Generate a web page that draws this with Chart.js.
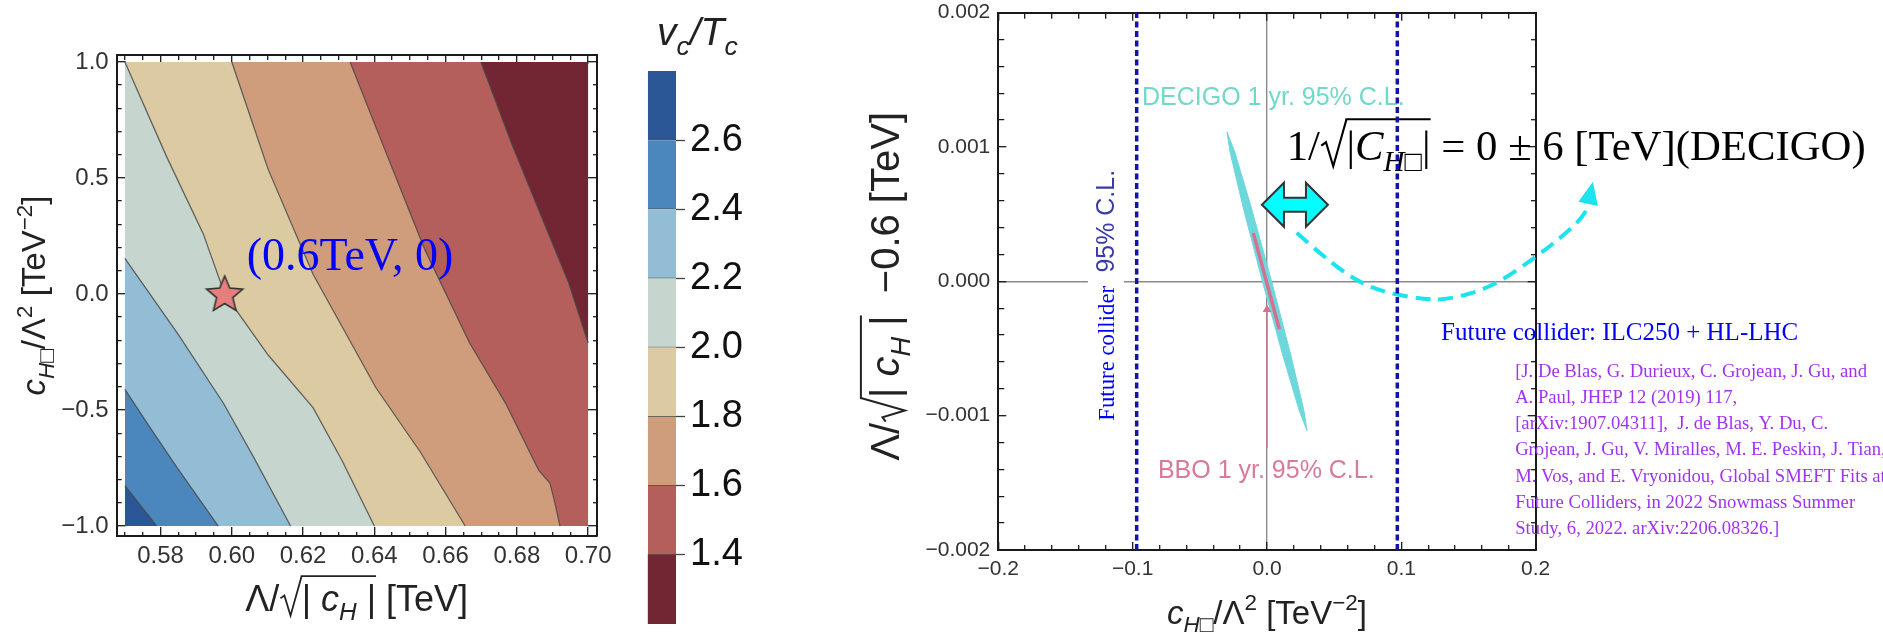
<!DOCTYPE html>
<html>
<head>
<meta charset="utf-8">
<title>v_c/T_c contours and GW / collider bounds</title>
<script src="https://cdn.jsdelivr.net/npm/chart.js@4.4.1/dist/chart.umd.min.js"></script>
<style>
  html, body { margin: 0; padding: 0; background: #fff; }
  body { position: relative; width: 1883px; height: 632px; overflow: hidden; }
  .panel { position: absolute; top: 0; height: 632px; }
</style>
</head>
<body>
<div class="panel" style="left:0;width:620px"><canvas id="contour"></canvas></div>
<div class="panel" style="left:620px;width:180px"><canvas id="colorbar"></canvas></div>
<div class="panel" style="left:800px;width:1083px"><canvas id="bounds"></canvas></div>
<script>
var SANS = '"Liberation Sans", Arial, sans-serif';
var SERIF = '"Liberation Serif", "Times New Roman", serif';

// ---------- left panel: v_c/T_c contour bands ----------
var xRange = [0.57, 0.70];
var yRange = [-1.0, 1.0];
var levels = [2.6, 2.4, 2.2, 2.0, 1.8, 1.6, 1.4];
// contour lines, [Lambda/sqrt|cH|, cHbox/Lambda^2]
var c26 = [[0.570, -0.826], [0.5789, -1.0]];
var c24 = [[0.570, -0.411], [0.5766, -0.565], [0.5845, -0.745], [0.5962, -1.0]];
var c22 = [[0.570, 0.154], [0.5851, -0.177], [0.5977, -0.472], [0.6060, -0.700], [0.6165, -1.0]];
var c20 = [[0.570, 1.0], [0.5817, 0.592], [0.5920, 0.259], [0.5980, 0.0], [0.6102, -0.263], [0.6228, -0.490], [0.6310, -0.720], [0.6400, -1.0]];
var c18 = [[0.6000, 1.0], [0.6102, 0.537], [0.6228, 0.085], [0.6404, -0.403], [0.6529, -0.681], [0.6655, -1.0]];
var c16 = [[0.6332, 1.0], [0.6430, 0.620], [0.6542, 0.190], [0.6667, -0.210], [0.6768, -0.470], [0.6861, -0.759], [0.6893, -0.816], [0.6907, -0.902], [0.6921, -1.0]];
var c14 = [[0.6699, 1.0], [0.6785, 0.650], [0.6870, 0.330], [0.6945, 0.050], [0.700, -0.211]];
var contourLines = [c26, c24, c22, c20, c18, c16, c14];
var benchmark = [0.598, 0.0];
var benchmarkLabel = '(0.6TeV, 0)';

var leftXTicks = [0.58, 0.60, 0.62, 0.64, 0.66, 0.68, 0.70];
var leftYTicks = [-1.0, -0.5, 0.0, 0.5, 1.0];

// colour bar
var cbEdges = [1.2, 1.4, 1.6, 1.8, 2.0, 2.2, 2.4, 2.6, 2.8];
var cbColors = ['#722634', '#b45f5c', '#cf9d7b', '#dccaa3', '#c6d6cf', '#92bdd5', '#4b87bd', '#2b5797'];
var cbTicks = [1.4, 1.6, 1.8, 2.0, 2.2, 2.4, 2.6];

// ---------- right panel: DECIGO / BBO / collider ----------
var decigoUpper = [[-0.0298, 0.001111], [-0.0241, 0.000966], [-0.0121, 0.000563], [0.0032, 0.0000089], [0.0177, -0.000548], [0.0274, -0.000958], [0.0298, -0.001111]];
var decigoLower = [[-0.0298, 0.001111], [-0.0274, 0.000958], [-0.0177, 0.000548], [-0.0032, -0.0000089], [0.0121, -0.000563], [0.0241, -0.000966], [0.0298, -0.001111]];
var bboBand = [[-0.0102, 0.000359], [0.0092, -0.000356]];
var bboPointer = [[0, -0.00124], [0, -0.00021]];
var colliderBound = [-0.097, 0.097];

var rightXTicks = [-0.2, -0.1, 0.0, 0.1, 0.2];
var rightYTicks = [-0.002, -0.001, 0.0, 0.001, 0.002];

// annotation anchors (data coordinates)
var decigoLabelAt = [-0.093, 0.001366];
var bboLabelAt = [-0.0812, -0.00141];
var formulaAt = [0.0147, 0.001013];
var arrowAt = [0.0208, 0.00057];
var colliderLabelAt = [-0.1199, -0.000104];
var ilcLabelAt = [0.1296, -0.000387];
var refsAt = [0.1847, -0.000674];
var curvePts = [[0.0221, 0.000361], [0.0419, 0.000185], [0.0668, 0.0], [0.0891, -0.0000856], [0.1162, -0.000133],
  [0.1340, -0.000138], [0.1668, -0.0000462], [0.1996, 0.000176], [0.2245, 0.000373], [0.2368, 0.000503], [0.2390, 0.000577]];
var curveTip = [0.2426, 0.000741];

var decigoLabel = 'DECIGO 1 yr. 95% C.L.';
var bboLabel = 'BBO 1 yr. 95% C.L.';
var ilcLabel = 'Future collider: ILC250 + HL-LHC';
var refLines = [
  '[J. De Blas, G. Durieux, C. Grojean, J. Gu, and',
  'A. Paul, JHEP 12 (2019) 117,',
  '[arXiv:1907.04311],  J. de Blas, Y. Du, C.',
  'Grojean, J. Gu, V. Miralles, M. E. Peskin, J. Tian,',
  'M. Vos, and E. Vryonidou, Global SMEFT Fits at',
  'Future Colliders, in 2022 Snowmass Summer',
  'Study, 6, 2022. arXiv:2206.08326.]'
];

// rich titles
var cTitle = [{t: 'c', it: 1}, {t: 'H□', it: 1, sub: 1}, {t: '/Λ'}, {t: '2', sup: 1}, {t: ' [TeV'}, {t: '−2', sup: 1}, {t: ']'}];
var lambdaTitle = [{t: 'Λ/'}, {t: '| ', over: 1}, {t: 'c', it: 1, over: 1}, {t: 'H', it: 1, sub: 1, over: 1}, {t: ' |', over: 1}, {t: ' [TeV]'}];
var lambdaShiftTitle = [{t: 'Λ/'}, {t: '| ', over: 1}, {t: 'c', it: 1, over: 1}, {t: 'H', it: 1, sub: 1, over: 1}, {t: ' |', over: 1}, {t: '  −0.6 [TeV]'}];
var vcTitle = [{t: 'v', it: 1}, {t: 'c', it: 1, sub: 1}, {t: '/', it: 1}, {t: 'T', it: 1}, {t: 'c', it: 1, sub: 1}];
var formula = [{t: '1/'}, {t: '|', over: 1}, {t: 'C', it: 1, over: 1}, {t: 'H□', it: 1, sub: 1, over: 1}, {t: '|', over: 1}, {t: ' = 0 ± 6 [TeV](DECIGO)'}];
var colliderVertical = [{t: 'Future collider', fam: SERIF, col: '#0000ff', k: 0.95}, {t: '  '}, {t: '95% C.L.', k: 1.04}];

// ---------- helpers ----------
function pts(a) { return a.map(function (p) { return {x: p[0], y: p[1]}; }); }
function minus(v, d) { return (v < 0 ? '−' : '') + Math.abs(v).toFixed(d); }
function noOverflow(s) { s.paddingTop = 0; s.paddingBottom = 0; s.paddingLeft = 0; s.paddingRight = 0; }

function richLayout(ctx, parts, size, family) {
  var total = 0, radW = 0.62 * size;
  var items = parts.map(function (p, i) {
    var fs = size * (p.k || 1) * (p.sub || p.sup ? 0.68 : 1);
    var font = (p.it ? 'italic ' : '') + fs.toFixed(2) + 'px ' + (p.fam || family);
    ctx.font = font;
    var w = ctx.measureText(p.t).width;
    var rad = p.over && (i === 0 || !parts[i - 1].over);
    total += w + (rad ? radW : 0);
    return {p: p, font: font, w: w, rad: rad, dy: p.sub ? 0.26 * size : (p.sup ? -0.40 * size : 0)};
  });
  return {items: items, total: total, radW: radW};
}

function drawRich(ctx, parts, o) {
  var size = o.size;
  var lay = richLayout(ctx, parts, size, o.family);
  if (o.fit) { size = size * o.fit / lay.total; lay = richLayout(ctx, parts, size, o.family); }
  var x = o.align === 'left' ? 0 : -lay.total / 2;
  var base = 0.35 * size;
  var lw = Math.max(1.3, size * 0.05);
  ctx.save();
  ctx.translate(o.x, o.y);
  if (o.rot) ctx.rotate(o.rot);
  if (o.bg) { ctx.fillStyle = o.bg; ctx.fillRect(x - 4, -0.75 * size, lay.total + 8, 1.5 * size); }
  ctx.textAlign = 'left';
  ctx.textBaseline = 'alphabetic';
  ctx.strokeStyle = o.color;
  ctx.lineWidth = lw;
  var barStart = null;
  lay.items.forEach(function (it, i) {
    if (it.rad) {
      ctx.beginPath();
      ctx.moveTo(x + 0.03 * size, base - 0.34 * size);
      ctx.lineTo(x + 0.14 * size, base - 0.42 * size);
      ctx.lineTo(x + 0.31 * size, base + 0.14 * size);
      ctx.lineTo(x + lay.radW, base - 0.96 * size);
      ctx.stroke();
      x += lay.radW;
      barStart = x;
    }
    ctx.font = it.font;
    ctx.fillStyle = it.p.col || o.color;
    ctx.fillText(it.p.t, x, base + it.dy);
    x += it.w;
    var nx = lay.items[i + 1];
    if (barStart !== null && (!nx || !nx.p.over)) {
      ctx.beginPath();
      ctx.moveTo(barStart - lw / 2, base - 0.96 * size);
      ctx.lineTo(x, base - 0.96 * size);
      ctx.stroke();
      barStart = null;
    }
  });
  ctx.restore();
}

// Mathematica-style frame axis: ticks inside, minor ticks shorter
function frameAxis(pos, min, max, step, majors, o) {
  var vals = [];
  for (var i = Math.ceil(min / step - 1e-9); i <= Math.floor(max / step + 1e-9); i++) vals.push(+(i * step).toFixed(10));
  var isMajor = function (v) { return majors.some(function (m) { return Math.abs(m - v) < step / 100; }); };
  var inward = pos === 'left' || pos === 'top';
  var horiz = pos === 'top' || pos === 'bottom';
  return {
    type: 'linear', position: pos, min: min, max: max,
    afterBuildTicks: function (s) { s.ticks = vals.map(function (v) { return {value: v}; }); },
    afterFit: function (s) {
      if (horiz) s.height = o.size || 0; else s.width = o.size || 0;
      noOverflow(s);
    },
    border: {display: true, color: '#1a1a1a', width: 2},
    grid: {
      drawOnChartArea: !!o.zero,
      color: function (c) { return c.tick && c.tick.value === 0 && o.zero ? o.zero : 'rgba(0,0,0,0)'; },
      lineWidth: 1.4,
      tickLength: -o.major,
      tickColor: '#1a1a1a',
      tickWidth: 1.3,
      tickBorderDash: function (c) {
        if (!c.tick || isMajor(c.tick.value)) return [];
        return inward ? [0, o.major - o.minor, o.minor, 400] : [o.minor, 400];
      }
    },
    ticks: {
      display: !!o.fmt, autoSkip: false, maxRotation: 0, minRotation: 0, padding: o.pad || 0,
      color: '#333', font: {size: o.font || 12, family: SANS},
      callback: function (v) { return o.fmt && isMajor(v) ? o.fmt(v) : ''; }
    }
  };
}

function starImage(r, fill) {
  var c = document.createElement('canvas');
  var n = Math.ceil(2 * r + 4);
  c.width = c.height = n;
  var g = c.getContext('2d');
  g.beginPath();
  for (var k = 0; k < 10; k++) {
    var rad = k % 2 ? r * 0.45 : r, a = -Math.PI / 2 + k * Math.PI / 5;
    var px = n / 2 + rad * Math.cos(a), py = n / 2 + rad * Math.sin(a) + 1;
    if (k) g.lineTo(px, py); else g.moveTo(px, py);
  }
  g.closePath();
  g.fillStyle = fill; g.fill();
  g.lineWidth = 1.6; g.strokeStyle = '#333'; g.stroke();
  return c;
}

Chart.defaults.font.family = SANS;

// ---------- left chart ----------
// band region right of a contour, closed along the box edges
function toBoxEdge(line) {
  var out = pts(line);
  if (line[0][0] > xRange[0]) out.unshift({x: xRange[0], y: yRange[1]});
  var last = line[line.length - 1];
  if (last[0] < xRange[1]) out.push({x: xRange[1], y: yRange[0]});
  return out;
}

var leftSets = [{
  data: pts([[xRange[0], yRange[0]], [xRange[1], yRange[0]]]),
  fill: {value: yRange[1]}, backgroundColor: cbColors[cbColors.length - 1], borderWidth: 0, order: 40
}];
levels.forEach(function (lv, k) {
  leftSets.push({
    data: toBoxEdge(contourLines[k]),
    fill: {value: yRange[1]},
    backgroundColor: cbColors[cbEdges.indexOf(lv) - 1],
    borderWidth: 0,
    order: 30 - k
  });
});
contourLines.forEach(function (line) {
  leftSets.push({data: pts(line), borderColor: 'rgba(70,70,70,0.8)', borderWidth: 1.3, order: 5});
});
leftSets.push({data: pts([benchmark]), showLine: false, pointStyle: starImage(19, '#e57f7c'), pointRadius: 19, order: 0});

var contourDecor = {
  id: 'contourDecor',
  afterDatasetsDraw: function (chart) {
    var ctx = chart.ctx, a = chart.chartArea;
    drawRich(ctx, lambdaTitle, {x: (a.left + a.right) / 2, y: a.bottom + 62, size: 36, family: SANS, color: '#222'});
    drawRich(ctx, cTitle, {x: a.left - 83, y: (a.top + a.bottom) / 2, size: 33, family: SANS, color: '#222', rot: -Math.PI / 2});
    var px = chart.scales.x.getPixelForValue(benchmark[0]), py = chart.scales.y.getPixelForValue(benchmark[1]);
    drawRich(ctx, [{t: benchmarkLabel}], {x: px + 22, y: py - 40, size: 46, family: SERIF, color: '#0000ff', align: 'left'});
  }
};

var xl = [xRange[0] - 0.0023, xRange[1] + 0.0024];
var yl = [-1.043, 1.030];
new Chart(document.getElementById('contour'), {
  type: 'line',
  data: {datasets: leftSets},
  options: {
    responsive: true, maintainAspectRatio: false, animation: false, events: [],
    layout: {padding: {left: 0, top: 55, right: 23.3, bottom: 0}},
    elements: {point: {radius: 0}, line: {tension: 0}},
    plugins: {legend: {display: false}, tooltip: {enabled: false}},
    scales: {
      x: frameAxis('bottom', xl[0], xl[1], 0.005, leftXTicks, {size: 96, major: 9, minor: 5, pad: 15, font: 24, fmt: function (v) { return minus(v, 2); }}),
      xTop: frameAxis('top', xl[0], xl[1], 0.005, leftXTicks, {size: 0, major: 9, minor: 5}),
      y: frameAxis('left', yl[0], yl[1], 0.1, leftYTicks, {size: 116.7, major: 9, minor: 5, pad: 17, font: 24, fmt: function (v) { return minus(v, 1); }}),
      yRight: frameAxis('right', yl[0], yl[1], 0.1, leftYTicks, {size: 0, major: 9, minor: 5})
    }
  },
  plugins: [contourDecor]
});

// ---------- colour bar ----------
var cbTitle = {
  id: 'cbTitle',
  afterDraw: function (chart) {
    drawRich(chart.ctx, vcTitle, {x: 37, y: 31, size: 39, family: SANS, color: '#222', align: 'left'});
  }
};
new Chart(document.getElementById('colorbar'), {
  type: 'bar',
  data: {
    labels: ['vc/Tc'],
    datasets: cbColors.map(function (col, i) {
      return {
        data: [[cbEdges[i], cbEdges[i + 1]]], backgroundColor: col, borderColor: 'rgba(55,55,55,0.85)',
        borderWidth: i === 0 ? 0 : {top: 0, right: 0, bottom: 1, left: 0}, borderSkipped: false,
        grouped: false, barPercentage: 1, categoryPercentage: 1
      };
    })
  },
  options: {
    responsive: true, maintainAspectRatio: false, animation: false, events: [],
    layout: {padding: {left: 27.7, top: 71, right: 0, bottom: 8}},
    plugins: {legend: {display: false}, tooltip: {enabled: false}},
    scales: {
      x: {display: false},
      y: {
        position: 'right', min: cbEdges[0], max: cbEdges[cbEdges.length - 1],
        afterBuildTicks: function (s) { s.ticks = cbTicks.map(function (v) { return {value: v}; }); },
        afterFit: function (s) { s.width = 124; noOverflow(s); },
        border: {display: false},
        grid: {drawOnChartArea: false, tickLength: 9, tickColor: '#444', tickWidth: 1.3},
        ticks: {padding: 5, color: '#111', font: {size: 38}, callback: function (v) { return v.toFixed(1); }}
      }
    }
  },
  plugins: [cbTitle]
});

// ---------- right chart ----------
var decigoColor = '#6dd8dc';
var bboColor = '#d6708e';
var dotColor = '#1313a5';
var rightSets = [
  {data: pts(decigoUpper), borderColor: decigoColor, borderWidth: 1, order: 5},
  {data: pts(decigoLower), borderColor: decigoColor, borderWidth: 1, fill: '-1', backgroundColor: decigoColor, order: 5},
  {data: pts(bboBand), borderColor: bboColor, borderWidth: 3.5, order: 3},
  {data: pts(bboPointer), borderColor: bboColor, borderWidth: 1.3, pointRadius: [0, 5], pointStyle: 'triangle',
    pointBackgroundColor: bboColor, pointBorderWidth: 0, order: 2},
  {data: pts([[colliderBound[0], rightYTicks[0]], [colliderBound[0], rightYTicks[4]]]), borderColor: dotColor, borderWidth: 3.5, borderDash: [6, 3.5], order: 1},
  {data: pts([[colliderBound[1], rightYTicks[0]], [colliderBound[1], rightYTicks[4]]]), borderColor: dotColor, borderWidth: 3.5, borderDash: [6, 3.5], order: 1}
];

var boundsDecor = {
  id: 'boundsDecor',
  beforeDatasetsDraw: function (chart) {
    var ctx = chart.ctx, a = chart.chartArea, sx = chart.scales.x, sy = chart.scales.y;
    var X = function (v) { return sx.getPixelForValue(v); };
    var Y = function (v) { return sy.getPixelForValue(v); };

    drawRich(ctx, cTitle, {x: (a.left + a.right) / 2, y: a.bottom + 62, size: 33, family: SANS, color: '#222'});
    drawRich(ctx, lambdaShiftTitle, {x: a.left - 113, y: (a.top + a.bottom) / 2 + 5, size: 40, family: SANS, color: '#222', rot: -Math.PI / 2});

    drawRich(ctx, colliderVertical, {x: X(colliderLabelAt[0]), y: Y(colliderLabelAt[1]), size: 24, family: SANS, color: '#3b3ba6', rot: -Math.PI / 2, bg: '#fff'});

    ctx.save();
    ctx.textBaseline = 'middle';
    ctx.textAlign = 'left';
    ctx.font = '25px ' + SANS;
    ctx.fillStyle = '#72d8c8';
    ctx.fillText(decigoLabel, X(decigoLabelAt[0]), Y(decigoLabelAt[1]));
    ctx.fillStyle = '#d87a98';
    ctx.fillText(bboLabel, X(bboLabelAt[0]), Y(bboLabelAt[1]));
    ctx.font = '25px ' + SERIF;
    ctx.fillStyle = '#0000ff';
    ctx.fillText(ilcLabel, X(ilcLabelAt[0]), Y(ilcLabelAt[1]));
    ctx.font = '100px ' + SERIF;
    var fs = 100 * 352 / ctx.measureText(refLines[0]).width;
    ctx.font = fs.toFixed(2) + 'px ' + SERIF;
    ctx.fillStyle = '#a033f2';
    refLines.forEach(function (s, i) { ctx.fillText(s, X(refsAt[0]), Y(refsAt[1]) + i * 26.2); });
    ctx.restore();

    drawRich(ctx, formula, {x: X(formulaAt[0]), y: Y(formulaAt[1]), size: 40, family: SERIF, color: '#000', align: 'left', fit: 579});

    // double-headed block arrow
    var cx = X(arrowAt[0]), cy = Y(arrowAt[1]), L = 33, H = 22, t = 7, h = 22;
    ctx.save();
    ctx.beginPath();
    ctx.moveTo(cx - L, cy); ctx.lineTo(cx - L + h, cy - H); ctx.lineTo(cx - L + h, cy - t);
    ctx.lineTo(cx + L - h, cy - t); ctx.lineTo(cx + L - h, cy - H); ctx.lineTo(cx + L, cy);
    ctx.lineTo(cx + L - h, cy + H); ctx.lineTo(cx + L - h, cy + t); ctx.lineTo(cx - L + h, cy + t);
    ctx.lineTo(cx - L + h, cy + H); ctx.closePath();
    ctx.fillStyle = '#00ffff'; ctx.fill();
    ctx.lineWidth = 2; ctx.strokeStyle = '#333'; ctx.lineJoin = 'miter'; ctx.stroke();

    // dashed curved arrow
    var P = curvePts.map(function (p) { return [X(p[0]), Y(p[1])]; });
    ctx.beginPath();
    ctx.moveTo(P[0][0], P[0][1]);
    for (var i = 1; i < P.length - 1; i++) {
      ctx.quadraticCurveTo(P[i][0], P[i][1], (P[i][0] + P[i + 1][0]) / 2, (P[i][1] + P[i + 1][1]) / 2);
    }
    ctx.lineTo(P[P.length - 1][0], P[P.length - 1][1]);
    ctx.setLineDash([15, 8]);
    ctx.lineWidth = 4; ctx.strokeStyle = '#1de3ef'; ctx.lineCap = 'butt';
    ctx.stroke();
    ctx.setLineDash([]);
    var bx = P[P.length - 1][0], by = P[P.length - 1][1], tx = X(curveTip[0]), ty = Y(curveTip[1]);
    var dx = tx - bx, dy = ty - by, len = Math.sqrt(dx * dx + dy * dy), nx = -dy / len * 10, ny = dx / len * 10;
    ctx.beginPath();
    ctx.moveTo(tx, ty); ctx.lineTo(bx + nx, by + ny); ctx.lineTo(bx - nx, by - ny); ctx.closePath();
    ctx.fillStyle = '#1de3ef'; ctx.fill();
    ctx.restore();
  }
};

new Chart(document.getElementById('bounds'), {
  type: 'line',
  data: {datasets: rightSets},
  options: {
    responsive: true, maintainAspectRatio: false, animation: false, events: [],
    layout: {padding: {left: 0, top: 12.7, right: 347.3, bottom: 0}},
    elements: {point: {radius: 0}, line: {tension: 0}},
    plugins: {legend: {display: false}, tooltip: {enabled: false}},
    scales: {
      x: frameAxis('bottom', rightXTicks[0], rightXTicks[4], 0.02, rightXTicks, {size: 82, major: 8, minor: 6, pad: 15, font: 21, zero: '#8a8a8a', fmt: function (v) { return minus(v, 1); }}),
      xTop: frameAxis('top', rightXTicks[0], rightXTicks[4], 0.02, rightXTicks, {size: 0, major: 8, minor: 6}),
      y: frameAxis('left', rightYTicks[0], rightYTicks[4], 0.0002, rightYTicks, {size: 198.3, major: 8, minor: 6, pad: 16, font: 21, zero: '#8a8a8a', fmt: function (v) { return minus(v, 3); }}),
      yRight: frameAxis('right', rightYTicks[0], rightYTicks[4], 0.0002, rightYTicks, {size: 0, major: 8, minor: 6})
    }
  },
  plugins: [boundsDecor]
});
</script>
</body>
</html>
